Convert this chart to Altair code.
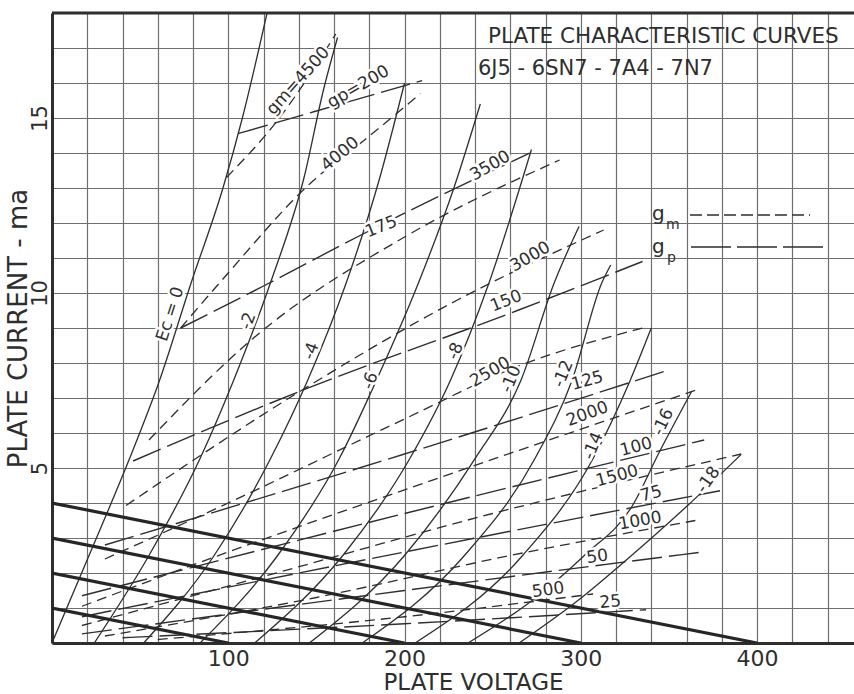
import altair as alt
import pandas as pd

INK = "#2e2e2e"
GRID = "#6e6e6e"
FONT = "DejaVu Sans"

X_MAX = 455
Y_MAX = 18

# ---- plate characteristic curves (grid bias Ec) : plate volts / plate mA ----
ec_names = ["0", "-2", "-4", "-6", "-8", "-10", "-12", "-14", "-16", "-18"]
ec_volts = [
    [0, 21, 44, 61, 79, 97, 108, 122],
    [24, 55, 84, 103, 124, 143, 154, 162],
    [52, 92, 124, 145, 167, 186, 200],
    [84, 128, 163, 184, 208, 228, 243],
    [115, 165, 203, 226, 248, 272],
    [146, 200, 240, 266, 285, 299],
    [176, 234, 274, 295, 312, 317],
    [206, 267, 307, 328, 340],
    [236, 272, 302, 329, 345, 363],
    [265, 298, 326, 360, 391],
]
ec_ma = [
    [0, 2.5, 5.27, 7.5, 10.3, 13.0, 15.0, 18.0],
    [0, 2.5, 5.27, 7.5, 10.3, 13.3, 15.8, 17.3],
    [0, 2.5, 5.27, 7.5, 10.3, 13.3, 16.0],
    [0, 2.5, 5.27, 7.5, 10.3, 13.0, 15.4],
    [0, 2.5, 5.27, 7.5, 10.3, 14.1],
    [0, 2.5, 5.27, 7.5, 10.3, 11.9],
    [0, 2.5, 5.27, 7.5, 10.3, 10.8],
    [0, 2.5, 5.27, 7.5, 9.0],
    [0, 1.2, 2.5, 3.9, 5.5, 7.2],
    [0, 1.2, 2.38, 3.9, 5.39],
]

# ---- constant transconductance gm (micromhos) ----
gm_names = ["500", "1000", "1500", "2000", "2500", "3000", "3500", "4000", "4500"]
gm_volts = [
    [60, 200, 307],
    [30, 150, 260, 365],
    [17, 120, 250, 391],
    [17, 100, 230, 368],
    [30, 100, 200, 264, 335],
    [42, 141, 230, 313],
    [55, 114, 200, 288],
    [73, 97, 148, 178, 209],
    [99, 129, 161],
]
gm_ma = [
    [0.1, 0.75, 1.4],
    [0.2, 1.3, 2.5, 3.5],
    [0.5, 1.9, 3.7, 5.4],
    [1.05, 2.6, 4.9, 7.27],
    [2.4, 4.0, 6.4, 7.9, 9.0],
    [3.93, 7.2, 9.8, 11.8],
    [5.8, 8.7, 11.6, 13.8],
    [9.0, 10.4, 13.2, 14.4, 15.7],
    [13.3, 15.0, 17.4],
]

# ---- constant plate conductance gp (micromhos) ----
gp_names = ["25", "50", "75", "100", "125", "150", "175", "200"]
gp_volts = [
    [40, 200, 337],
    [17, 200, 369],
    [17, 200, 379],
    [17, 200, 370],
    [30, 200, 350],
    [46, 141, 264, 335],
    [73, 120, 177, 271],
    [106, 150, 210],
]
gp_ma = [
    [0.15, 0.55, 0.95],
    [0.26, 1.5, 2.6],
    [0.75, 2.6, 4.35],
    [1.35, 3.7, 5.8],
    [2.8, 5.4, 7.8],
    [5.2, 7.2, 9.5, 10.9],
    [9.0, 10.2, 11.7, 14.0],
    [14.56, 15.2, 16.07],
]

# ---- load lines ----
load_names = ["A", "B", "C", "D"]
load_volts = [[0, 400], [0, 300], [0, 200], [0, 100]]
load_ma = [[4, 0], [3, 0], [2, 0], [1, 0]]

# ---- curve labels ----
lab_text = ["Ec = 0", "-2", "-4", "-6", "-8", "-10", "-12", "-14", "-16", "-18",
            "gm=4500", "gp=200", "4000", "3500", "175", "3000", "150", "2500",
            "125", "2000", "100", "1500", "75", "1000", "50", "500", "25"]
lab_v = [67.1, 111.3, 147.1, 180.6, 228.9, 260.5, 290.1, 307.1, 346.8, 372.4,
         139.7, 173.8, 163.5, 248.6, 186.8, 271.3, 257.7, 248.6,
         303.7, 303.7, 331.4, 320.6, 339.9, 333.7, 309.3, 281.5, 316.7]
lab_i = [9.4, 9.2, 8.34, 7.49, 8.34, 7.54, 7.69, 5.63, 6.31, 4.66,
         16.06, 15.89, 13.97, 13.63, 11.89, 11.03, 9.77, 7.74,
         7.49, 6.54, 5.6, 4.77, 4.26, 3.49, 2.46, 1.51, 1.17]
lab_rot = [288, 290, 290, 290, 292, 292, 292, 292, 295, 305,
           312, 330, 320, 330, 338, 330, 338, 330,
           345, 340, 345, 345, 345, 350, 352, 352, 355]

rows = []
for kind, names, vv, mm in [("plate", ec_names, ec_volts, ec_ma),
                            ("gm", gm_names, gm_volts, gm_ma),
                            ("gp", gp_names, gp_volts, gp_ma),
                            ("load", load_names, load_volts, load_ma)]:
    for n, vs, ms in zip(names, vv, mm):
        for v, m in zip(vs, ms):
            rows.append({"kind": kind, "name": kind + n, "V": v, "I": m})
df = pd.DataFrame(rows)
labels = pd.DataFrame({"t": lab_text, "V": lab_v, "I": lab_i, "rot": lab_rot})

W, H = 802, 630

x_enc = alt.X("V:Q", scale=alt.Scale(domain=[0, X_MAX], nice=False, zero=False),
              axis=alt.Axis(values=list(range(0, 456, 20)),
                            labelExpr="datum.value % 100 == 0 && datum.value > 0 ? datum.value : ''",
                            grid=True, gridColor=GRID, gridWidth=1.2,
                            domainColor=INK, domainWidth=3, ticks=False,
                            labelFont=FONT, labelFontSize=22, labelColor=INK,
                            labelPadding=5, labelOverlap=False, labelFlush=False,
                            title="PLATE VOLTAGE", titleFont=FONT, titleFontSize=23,
                            titleFontWeight="normal", titleColor=INK,
                            titleX=421, titleY=46, titleBaseline="alphabetic"))
y_enc = alt.Y("I:Q", scale=alt.Scale(domain=[0, Y_MAX], nice=False, zero=True),
              axis=alt.Axis(values=list(range(0, 19)),
                            labelExpr="datum.value % 5 == 0 && datum.value > 0 ? datum.value : ''",
                            grid=True, gridColor=GRID, gridWidth=1.2,
                            domainColor=INK, domainWidth=3, ticks=False,
                            labelFont=FONT, labelFontSize=21, labelColor=INK,
                            labelAngle=270, labelAlign="center", labelBaseline="bottom",
                            labelPadding=2, labelOverlap=False, labelFlush=False,
                            title="PLATE CURRENT - ma", titleFont=FONT, titleFontSize=26,
                            titleFontWeight="normal", titleColor=INK,
                            titleX=-21, titleBaseline="bottom"))

base = alt.Chart(df)
plate = base.transform_filter(alt.datum.kind == "plate").mark_line(
    interpolate="monotone", color=INK, strokeWidth=1.3, clip=True
).encode(x=x_enc, y=y_enc, detail="name:N")
gm = base.transform_filter(alt.datum.kind == "gm").mark_line(
    interpolate="monotone", color=INK, strokeWidth=1.3, strokeDash=[10, 6], clip=True
).encode(x=x_enc, y=y_enc, detail="name:N")
gp = base.transform_filter(alt.datum.kind == "gp").mark_line(
    interpolate="monotone", color=INK, strokeWidth=1.4, strokeDash=[30, 7], clip=True
).encode(x=x_enc, y=y_enc, detail="name:N")
load = base.transform_filter(alt.datum.kind == "load").mark_line(
    color="#262626", strokeWidth=3.2, clip=True
).encode(x=x_enc, y=y_enc, detail="name:N")

lab_base = alt.Chart(labels)
halo = lab_base.mark_text(font=FONT, fontSize=17, color="white", stroke="white",
                          strokeWidth=5).encode(
    x=x_enc, y=y_enc, text="t:N", angle=alt.Angle("rot:Q", scale=None))
lab = lab_base.mark_text(font=FONT, fontSize=17, color=INK).encode(
    x=x_enc, y=y_enc, text="t:N", angle=alt.Angle("rot:Q", scale=None))

one = alt.Chart(pd.DataFrame({"k": [0]}))
top_border = one.mark_rule(color=INK, strokeWidth=3).encode(
    x=alt.value(0), x2=alt.value(W), y=alt.value(0))
title1 = one.mark_text(text="PLATE CHARACTERISTIC CURVES", font=FONT, fontSize=21.5,
                       color=INK, align="left", baseline="middle").encode(
    x=alt.value(436), y=alt.value(24))
title2 = one.mark_text(text="6J5 - 6SN7 - 7A4 - 7N7", font=FONT, fontSize=21,
                       color=INK, align="left", baseline="middle").encode(
    x=alt.value(426), y=alt.value(56))
leg_gm_line = one.mark_rule(color=INK, strokeWidth=1.4, strokeDash=[12, 5]).encode(
    x=alt.value(638), x2=alt.value(758), y=alt.value(202))
leg_gp_line = one.mark_rule(color=INK, strokeWidth=1.4, strokeDash=[40, 6]).encode(
    x=alt.value(639), x2=alt.value(773), y=alt.value(234))
leg_g1 = one.mark_text(text="g", font=FONT, fontSize=20, color=INK, align="left",
                       baseline="alphabetic").encode(x=alt.value(600), y=alt.value(207))
leg_m = one.mark_text(text="m", font=FONT, fontSize=14, color=INK, align="left",
                      baseline="alphabetic").encode(x=alt.value(614), y=alt.value(216))
leg_g2 = one.mark_text(text="g", font=FONT, fontSize=20, color=INK, align="left",
                       baseline="alphabetic").encode(x=alt.value(600), y=alt.value(240))
leg_p = one.mark_text(text="p", font=FONT, fontSize=14, color=INK, align="left",
                      baseline="alphabetic").encode(x=alt.value(615), y=alt.value(249))

chart = alt.layer(
    plate, gm, gp, load, halo, lab, top_border, title1, title2,
    leg_gm_line, leg_gp_line, leg_g1, leg_m, leg_g2, leg_p
).properties(
    width=W, height=H,
    autosize=alt.AutoSizeParams(type="none"),
    padding={"left": 52, "top": 13, "right": 0, "bottom": 51},
    background="white",
).configure_view(stroke=None)

chart.save("out.html", embed_options={"renderer": "svg", "actions": False})
